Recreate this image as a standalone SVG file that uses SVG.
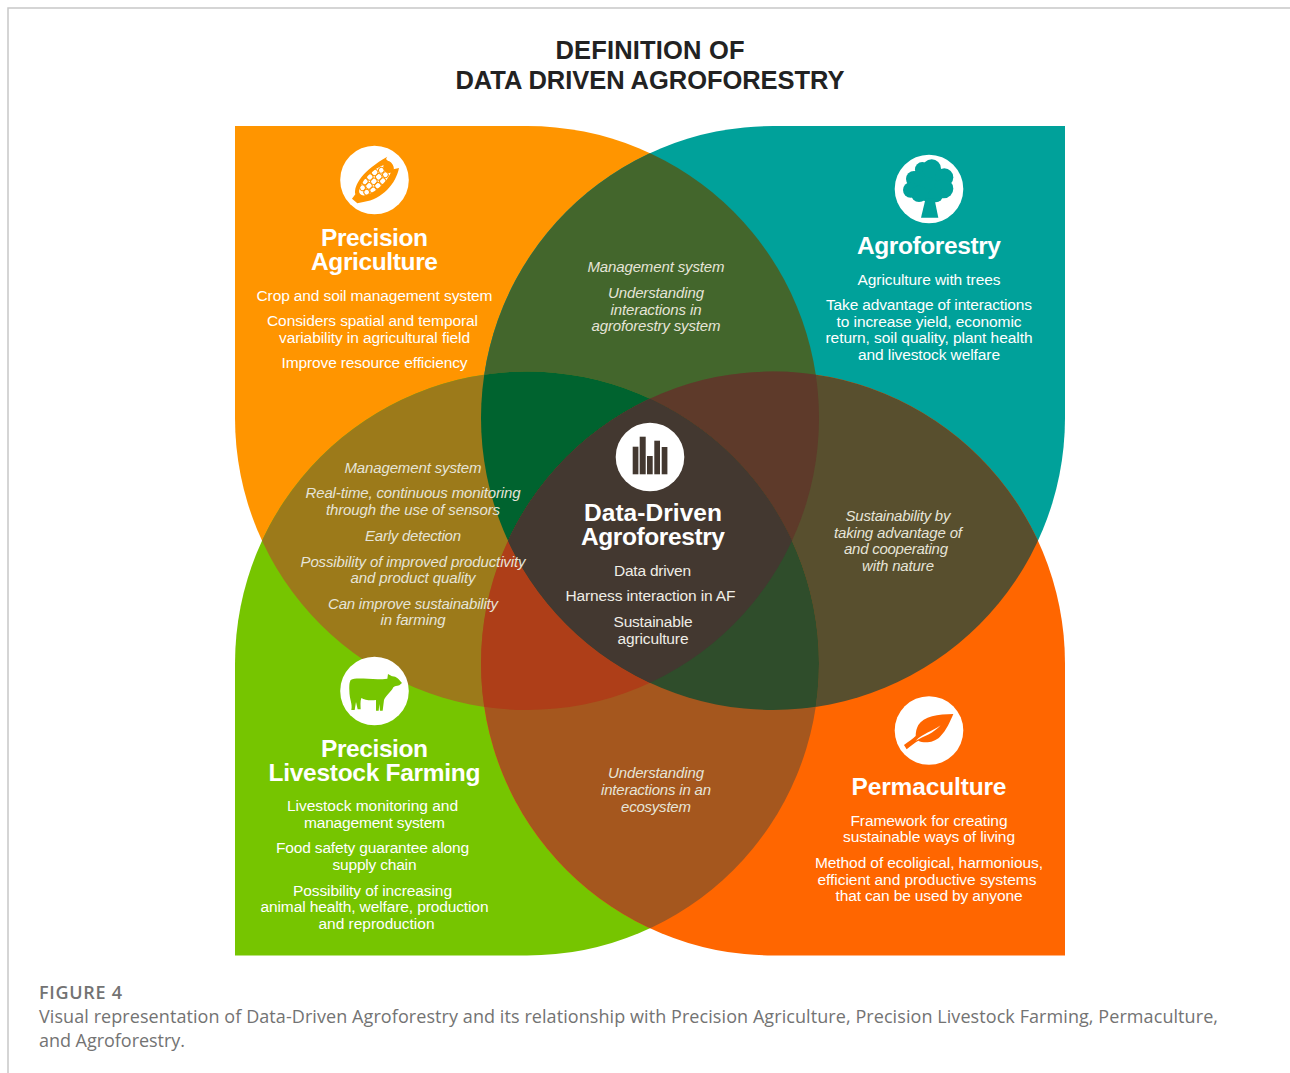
<svg xmlns="http://www.w3.org/2000/svg" width="1290" height="1073" viewBox="0 0 1290 1073">
<style>
text{font-family:"Liberation Sans",Arial,sans-serif;text-anchor:middle;fill:#fff}
.h{font-size:24.5px;font-weight:700}
.b{font-size:15.5px}
.i{font-size:15px;font-style:italic;fill:#e6e4d8}
.d{fill:#efede6}
.title{font-size:25.5px;font-weight:700;fill:#222}
.cap{font-family:"Open Sans",sans-serif;text-anchor:start;fill:#737373;font-size:18px}
.disc{fill:#fff}
</style>
<defs>
<path id="A" d="M235,126H527A292,292 0 1 1 235,418Z"/>
<path id="B" d="M1065,126H773A292,292 0 1 0 1065,418Z"/>
<path id="C" d="M235,955.5H527A292,292 0 1 0 235,663.5Z"/>
<path id="D" d="M1065,955.5H773A292,292 0 1 1 1065,663.5Z"/>
<clipPath id="cA"><use href="#A"/></clipPath>
<clipPath id="cB"><use href="#B"/></clipPath>
<clipPath id="cC"><use href="#C"/></clipPath>
<clipPath id="cD"><use href="#D"/></clipPath>
</defs>
<rect width="1290" height="1073" fill="#fff"/>
<path d="M1290,8H8V1073" fill="none" stroke="#c8c8c8" stroke-width="1.5"/>
<g id="title">
<text class="title" x="650" y="59" textLength="189">DEFINITION OF</text>
<text class="title" x="650" y="89" textLength="389">DATA DRIVEN AGROFORESTRY</text>
</g>
<g id="venn">
<use href="#A" fill="#ff9500"/>
<use href="#B" fill="#00a19a"/>
<use href="#C" fill="#76c500"/>
<use href="#D" fill="#ff6600"/>
<g clip-path="url(#cA)"><use href="#B" fill="#43662c"/><use href="#C" fill="#9c7a1a"/></g>
<g clip-path="url(#cD)"><use href="#B" fill="#584f2e"/><use href="#C" fill="#a5571e"/></g>
<g clip-path="url(#cA)"><g clip-path="url(#cB)"><use href="#C" fill="#00632f"/><use href="#D" fill="#5e3a2a"/></g></g>
<g clip-path="url(#cC)"><g clip-path="url(#cD)"><use href="#A" fill="#ae3e18"/><use href="#B" fill="#2f4d2b"/></g></g>
<g clip-path="url(#cA)"><g clip-path="url(#cB)"><g clip-path="url(#cC)"><use href="#D" fill="#433830"/></g></g></g>
</g>
<g id="precision-agriculture">
<circle class="disc" cx="374.5" cy="180" r="34.3"/>
<g transform="translate(330,140) scale(.3333)" fill="#ff9500">
<path d="M66,176L76,163C70,135 100,90 172,50C165,58 170,60 178,64C186,68 190,76 190,88L207,84C198,130 158,178 100,186L82,190Z"/>
<g transform="rotate(-43 136 120)">
<ellipse cx="136" cy="120" rx="62" ry="25" fill="#fff"/>
<ellipse cx="190" cy="120" rx="15" ry="17"/>
<g fill="none" stroke="#ff9500" stroke-width="3">
<circle cx="92" cy="111" r="8.5"/><circle cx="92" cy="129" r="8.5"/>
<circle cx="110" cy="102" r="9.5"/><circle cx="110" cy="120" r="9.5"/><circle cx="110" cy="138" r="9.5"/>
<circle cx="130" cy="102" r="9.5"/><circle cx="130" cy="120" r="9.5"/><circle cx="130" cy="138" r="9.5"/>
<circle cx="150" cy="102" r="9.5"/><circle cx="150" cy="120" r="9.5"/><circle cx="150" cy="138" r="9.5"/>
<circle cx="169" cy="111" r="8.5"/><circle cx="169" cy="129" r="8.5"/>
</g>
</g>
</g>
<text class="h" x="374.5" y="246" textLength="107">Precision</text>
<text class="h" x="374.5" y="270" textLength="127">Agriculture</text>
<text class="b" x="374.5" y="300.5" textLength="236">Crop and soil management system</text>
<text class="b" x="372.5" y="326" textLength="211">Considers spatial and temporal</text>
<text class="b" x="374.5" y="343" textLength="191">variability in agricultural field</text>
<text class="b" x="374.5" y="368" textLength="186">Improve resource efficiency</text>
</g>
<g id="agroforestry">
<circle class="disc" cx="929" cy="189" r="34.3"/>
<g transform="translate(885,150) scale(.3333)" fill="#00a19a">
<circle cx="130" cy="100" r="54"/><circle cx="112" cy="58" r="22"/><circle cx="140" cy="56" r="28"/><circle cx="178" cy="82" r="27"/><circle cx="176" cy="116" r="29"/><circle cx="87" cy="87" r="24"/><circle cx="77" cy="120" r="23"/><circle cx="102" cy="132" r="24"/><circle cx="152" cy="135" r="22"/>
<path d="M122,145H148L160,203H108Z"/>
</g>
<text class="h" x="929" y="254" textLength="144">Agroforestry</text>
<text class="b" x="929" y="285" textLength="143">Agriculture with trees</text>
<text class="b" x="929" y="310" textLength="206">Take advantage of interactions</text>
<text class="b" x="929" y="327" textLength="185">to increase yield, economic</text>
<text class="b" x="929" y="343" textLength="207">return, soil quality, plant health</text>
<text class="b" x="929" y="360" textLength="142">and livestock welfare</text>
</g>
<g id="precision-livestock-farming">
<circle class="disc" cx="374.5" cy="691" r="34.3"/>
<path transform="translate(330,650) scale(.3333)" fill="#76c500" d="M62,90C80,80 130,92 172,86L174,72L186,79C198,78 207,88 216,99L208,106C200,108 194,108 190,112C182,128 168,136 162,150L158,182L150,182L148,162L146,182L138,182L138,150C125,152 105,152 94,144C90,155 92,168 92,178L83,178L78,156L74,180L64,180C68,160 58,150 58,120C58,105 58,98 62,90Z"/>
<text class="h" x="374.5" y="757" textLength="107">Precision</text>
<text class="h" x="374.5" y="781" textLength="212">Livestock Farming</text>
<text class="b" x="372.5" y="811" textLength="171">Livestock monitoring and</text>
<text class="b" x="374.5" y="827.5" textLength="141">management system</text>
<text class="b" x="372.5" y="853" textLength="193">Food safety guarantee along</text>
<text class="b" x="374.5" y="870" textLength="84">supply chain</text>
<text class="b" x="372.5" y="896" textLength="159">Possibility of increasing</text>
<text class="b" x="374.5" y="912" textLength="228">animal health, welfare, production</text>
<text class="b" x="376.5" y="929" textLength="116">and reproduction</text>
</g>
<g id="permaculture">
<circle class="disc" cx="929" cy="730.5" r="34.3"/>
<g transform="translate(885,690) scale(.3333)">
<path fill="#ff6600" d="M205,72C160,72 115,80 100,105C95,115 92,125 92,138C85,145 70,155 57,165L65,178C80,165 90,158 100,152C115,160 145,160 165,140C185,120 195,95 205,72Z"/>
<path fill="#fff" d="M92,152C115,130 140,125 167,106C145,130 120,138 92,152Z"/>
</g>
<text class="h" x="929" y="795" textLength="155">Permaculture</text>
<text class="b" x="929" y="825.5" textLength="157">Framework for creating</text>
<text class="b" x="929" y="842" textLength="172">sustainable ways of living</text>
<text class="b" x="929" y="868" textLength="228">Method of ecoligical, harmonious,</text>
<text class="b" x="927" y="885" textLength="219">efficient and productive systems</text>
<text class="b" x="929" y="901" textLength="187">that can be used by anyone</text>
</g>
<g id="data-driven-agroforestry">
<circle class="disc" cx="650" cy="457" r="34.3"/>
<g fill="#433830">
<rect x="632.7" y="446.7" width="5.7" height="27.6"/>
<rect x="639.7" y="436.7" width="6" height="37.6"/>
<rect x="647" y="456" width="5.7" height="18.3"/>
<rect x="654.3" y="440.7" width="5.7" height="33.6"/>
<rect x="661.7" y="447" width="5.7" height="27.3"/>
</g>
<text class="h" x="653" y="521" textLength="138">Data-Driven</text>
<text class="h" x="653" y="545" textLength="144">Agroforestry</text>
<text class="b d" x="652.5" y="575.5" textLength="77">Data driven</text>
<text class="b d" x="650.5" y="601" textLength="170">Harness interaction in AF</text>
<text class="b d" x="653" y="627" textLength="79">Sustainable</text>
<text class="b d" x="653" y="644" textLength="71">agriculture</text>
</g>
<g id="overlap-top">
<text class="i" x="656" y="272" textLength="137">Management system</text>
<text class="i" x="656" y="298" textLength="96">Understanding</text>
<text class="i" x="656" y="315" textLength="91">interactions in</text>
<text class="i" x="656" y="331" textLength="129">agroforestry system</text>
</g>
<g id="overlap-left">
<text class="i" x="413" y="473" textLength="137">Management system</text>
<text class="i" x="413" y="498" textLength="215">Real-time, continuous monitoring</text>
<text class="i" x="413" y="515" textLength="174">through the use of sensors</text>
<text class="i" x="413" y="541" textLength="96">Early detection</text>
<text class="i" x="413" y="567" textLength="225">Possibility of improved productivity</text>
<text class="i" x="413" y="583" textLength="125">and product quality</text>
<text class="i" x="413" y="609" textLength="170">Can improve sustainability</text>
<text class="i" x="413" y="625" textLength="65">in farming</text>
</g>
<g id="overlap-right">
<text class="i" x="898" y="521" textLength="105">Sustainability by</text>
<text class="i" x="898" y="538" textLength="128">taking advantage of</text>
<text class="i" x="896" y="554" textLength="104">and cooperating</text>
<text class="i" x="898" y="571" textLength="72">with nature</text>
</g>
<g id="overlap-bottom">
<text class="i" x="656" y="778" textLength="96">Understanding</text>
<text class="i" x="656" y="795" textLength="110">interactions in an</text>
<text class="i" x="656" y="812" textLength="70">ecosystem</text>
</g>
<g id="caption">
<text class="cap" x="39" y="999" textLength="83" style="font-weight:600">FIGURE 4</text>
<text class="cap" x="39" y="1023" textLength="1179">Visual representation of Data-Driven Agroforestry and its relationship with Precision Agriculture, Precision Livestock Farming, Permaculture,</text>
<text class="cap" x="39" y="1047" textLength="146">and Agroforestry.</text>
</g>
</svg>
